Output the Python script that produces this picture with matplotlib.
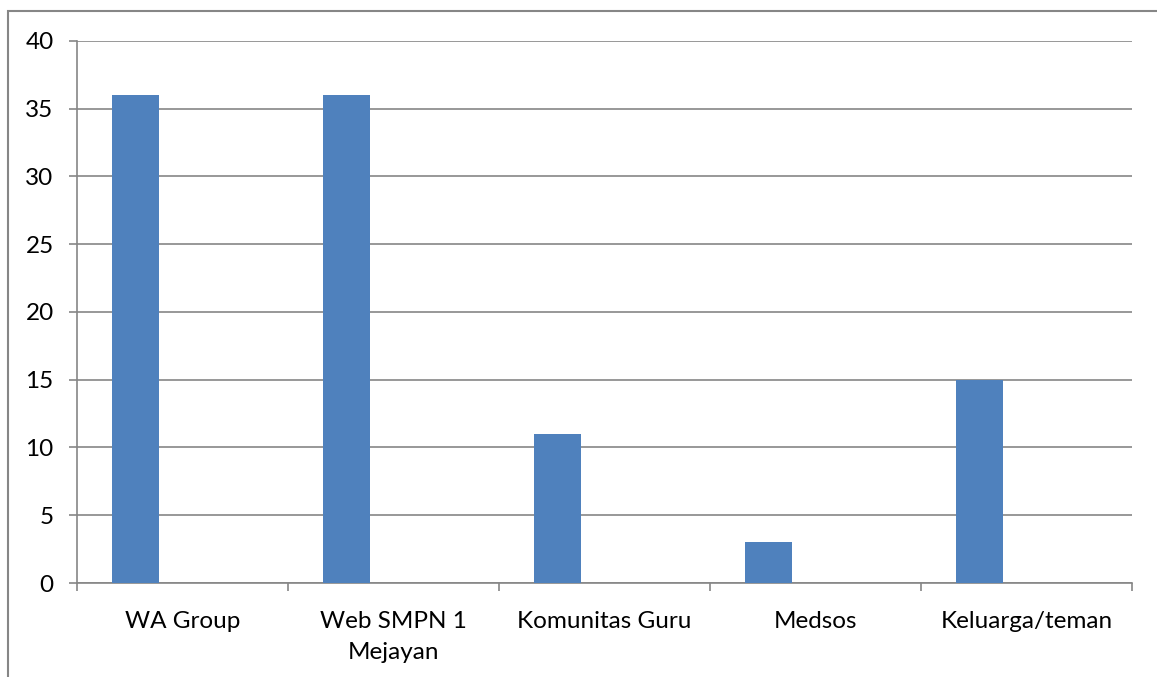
"""
Graphique en barres : sumber informasi (style Excel, une seule série remplie).
"""

import matplotlib
matplotlib.use("Agg")
import matplotlib.pyplot as plt
from matplotlib.patches import Rectangle
import numpy as np

categories = ["WA Group", "Web SMPN 1\nMejayan", "Komunitas Guru", "Medsos", "Keluarga/teman"]
values = [36, 36, 11, 3, 15]
y_ticks = [0, 5, 10, 15, 20, 25, 30, 35, 40]

BAR_COLOR = "#4F81BD"
LINE_COLOR = "#868686"
N_SERIES = 3          # Excel: 3 séries dans le groupe, seule la 1re a des valeurs
GAP = 1.5             # gap width 150 %
FS = 17.5

plt.rcParams["font.family"] = ["Lato", "DejaVu Sans"]

fig = plt.figure(figsize=(11.57, 6.77), dpi=100)
ax = fig.add_axes([77 / 1157, 1 - 583 / 677, (1132 - 77) / 1157, (583 - 41) / 677])

x = np.arange(len(categories))
w = 1 / (N_SERIES + GAP)
offset = -N_SERIES * w / 2 + w / 2
ax.bar(x + offset, values, width=w, color=BAR_COLOR, zorder=3)

ax.set_xlim(-0.5, len(categories) - 0.5)
ax.set_ylim(0, 40)
ax.set_yticks(y_ticks)
ax.yaxis.grid(True, color=LINE_COLOR, linewidth=1.2, zorder=0)
ax.set_axisbelow(True)

ax.set_xticks(x)
ax.set_xticklabels(categories, fontsize=FS, linespacing=1.55)
ax.set_xticks(np.arange(len(categories) + 1) - 0.5, minor=True)
ax.tick_params(axis="x", which="major", length=0, pad=20.5)
ax.tick_params(axis="x", which="minor", length=5.8, width=1.2, color=LINE_COLOR, direction="out")
ax.tick_params(axis="y", length=5.8, width=1.2, color=LINE_COLOR, labelsize=FS, pad=11)

for side in ("top", "right"):
    ax.spines[side].set_visible(False)
for side in ("left", "bottom"):
    ax.spines[side].set_color(LINE_COLOR)
    ax.spines[side].set_linewidth(1.2)

# cadre extérieur (rogné à droite et en bas)
fig.patches.append(Rectangle((8 / 1157, -0.1), 1.2, 1 - 11 / 677 + 0.1,
                             transform=fig.transFigure, fill=False,
                             edgecolor=LINE_COLOR, linewidth=1.5))

fig.savefig("out.png", dpi=100)
